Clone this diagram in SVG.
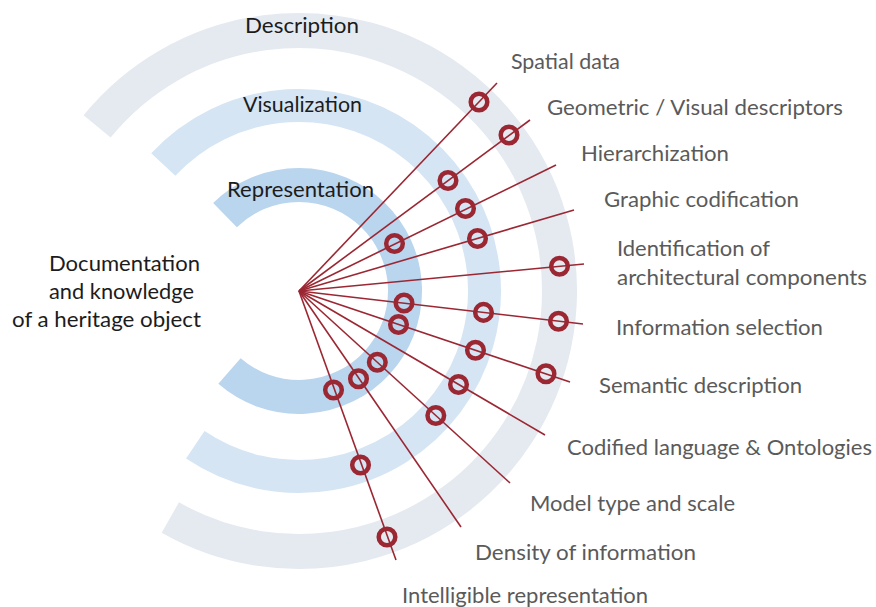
<svg xmlns="http://www.w3.org/2000/svg" width="876" height="607" viewBox="0 0 876 607">
<style>
  .band { fill: none; stroke-linecap: butt; }
  .b-desc { stroke: #e5eaf1; stroke-width: 35; }
  .b-vis { stroke: #d5e5f4; stroke-width: 33; }
  .b-rep { stroke: #bad5ee; stroke-width: 34; }
  .title { font-family: Lato, "Open Sans", sans-serif; font-size: 22px; fill: #1c1c1c; }
  .lbl { font-family: Lato, "Open Sans", sans-serif; font-size: 21.5px; fill: #5a5a5a; }
  .conn line { stroke: #9b2733; stroke-width: 1.6; }
  .ring { fill: none; stroke: #9b2733; stroke-width: 4.5; }
</style>
<rect width="876" height="607" fill="#ffffff"/>

<g id="band-description">
  <path class="band b-desc" d="M97.1,126.4 A260.5,260.5 0 1 1 170.3,517.5"/>
  <text class="title" x="245" y="33" textLength="114" lengthAdjust="spacingAndGlyphs">Description</text>
</g>
<g id="band-visualization">
  <path class="band b-vis" d="M163.3,164.5 A185.5,185.5 0 1 1 195.3,444.8"/>
  <text class="title" x="243" y="112" textLength="119" lengthAdjust="spacingAndGlyphs">Visualization</text>
</g>
<g id="band-representation">
  <path class="band b-rep" d="M225.0,215.1 A106,106 0 1 1 229.5,371.0"/>
  <text class="title" x="227" y="197" textLength="147" lengthAdjust="spacingAndGlyphs">Representation</text>
</g>

<g id="node-documentation">
  <text class="title" x="49" y="271" textLength="151" lengthAdjust="spacingAndGlyphs">Documentation</text>
  <text class="title" x="49" y="299" textLength="145" lengthAdjust="spacingAndGlyphs">and knowledge</text>
  <text class="title" x="12" y="327" textLength="189" lengthAdjust="spacingAndGlyphs">of a heritage object</text>
</g>

<g id="connectors" class="conn">
  <line x1="299" y1="291" x2="497" y2="83"/>
  <line x1="299" y1="291" x2="530" y2="120"/>
  <line x1="299" y1="291" x2="556" y2="165"/>
  <line x1="299" y1="291" x2="574" y2="210"/>
  <line x1="299" y1="291" x2="584" y2="264"/>
  <line x1="299" y1="291" x2="583" y2="324"/>
  <line x1="299" y1="291" x2="570" y2="382"/>
  <line x1="299" y1="291" x2="545" y2="435"/>
  <line x1="299" y1="291" x2="510" y2="483"/>
  <line x1="299" y1="291" x2="461" y2="527"/>
  <line x1="299" y1="291" x2="396" y2="560"/>
</g>

<g id="markers">
  <circle class="ring" cx="479" cy="102" r="8.3"/>
  <circle class="ring" cx="509" cy="135" r="8.3"/>
  <circle class="ring" cx="448" cy="180.5" r="8.3"/>
  <circle class="ring" cx="465.5" cy="208.5" r="8.3"/>
  <circle class="ring" cx="394.5" cy="243.5" r="8.3"/>
  <circle class="ring" cx="477.5" cy="238.5" r="8.3"/>
  <circle class="ring" cx="559.5" cy="266.3" r="8.3"/>
  <circle class="ring" cx="404" cy="303" r="8.3"/>
  <circle class="ring" cx="483.5" cy="312.4" r="8.3"/>
  <circle class="ring" cx="558.5" cy="321.2" r="8.3"/>
  <circle class="ring" cx="398.5" cy="324.5" r="8.3"/>
  <circle class="ring" cx="475.5" cy="350.2" r="8.3"/>
  <circle class="ring" cx="546" cy="373.8" r="8.3"/>
  <circle class="ring" cx="458.5" cy="384.5" r="8.3"/>
  <circle class="ring" cx="377.3" cy="362.2" r="8.3"/>
  <circle class="ring" cx="435.8" cy="415.5" r="8.3"/>
  <circle class="ring" cx="358.5" cy="378.8" r="8.3"/>
  <circle class="ring" cx="333.5" cy="390" r="8.3"/>
  <circle class="ring" cx="360.5" cy="465" r="8.3"/>
  <circle class="ring" cx="387" cy="537" r="8.3"/>
</g>

<g id="label-spatial"><text class="lbl" x="511" y="69" textLength="109" lengthAdjust="spacingAndGlyphs">Spatial data</text></g>
<g id="label-geometric"><text class="lbl" x="547" y="115" textLength="296" lengthAdjust="spacingAndGlyphs">Geometric / Visual descriptors</text></g>
<g id="label-hierarchization"><text class="lbl" x="581" y="161" textLength="148" lengthAdjust="spacingAndGlyphs">Hierarchization</text></g>
<g id="label-graphic"><text class="lbl" x="604" y="207" textLength="195" lengthAdjust="spacingAndGlyphs">Graphic codification</text></g>
<g id="label-identification">
  <text class="lbl" x="617" y="256" textLength="153" lengthAdjust="spacingAndGlyphs">Identification of</text>
  <text class="lbl" x="617" y="285" textLength="250" lengthAdjust="spacingAndGlyphs">architectural components</text>
</g>
<g id="label-information"><text class="lbl" x="616" y="335" textLength="207" lengthAdjust="spacingAndGlyphs">Information selection</text></g>
<g id="label-semantic"><text class="lbl" x="599" y="393" textLength="203" lengthAdjust="spacingAndGlyphs">Semantic description</text></g>
<g id="label-codified"><text class="lbl" x="567" y="455" textLength="305" lengthAdjust="spacingAndGlyphs">Codified language &amp; Ontologies</text></g>
<g id="label-model"><text class="lbl" x="530" y="511" textLength="205" lengthAdjust="spacingAndGlyphs">Model type and scale</text></g>
<g id="label-density"><text class="lbl" x="475" y="560" textLength="221" lengthAdjust="spacingAndGlyphs">Density of information</text></g>
<g id="label-intelligible"><text class="lbl" x="402" y="603" textLength="246" lengthAdjust="spacingAndGlyphs">Intelligible representation</text></g>
</svg>
